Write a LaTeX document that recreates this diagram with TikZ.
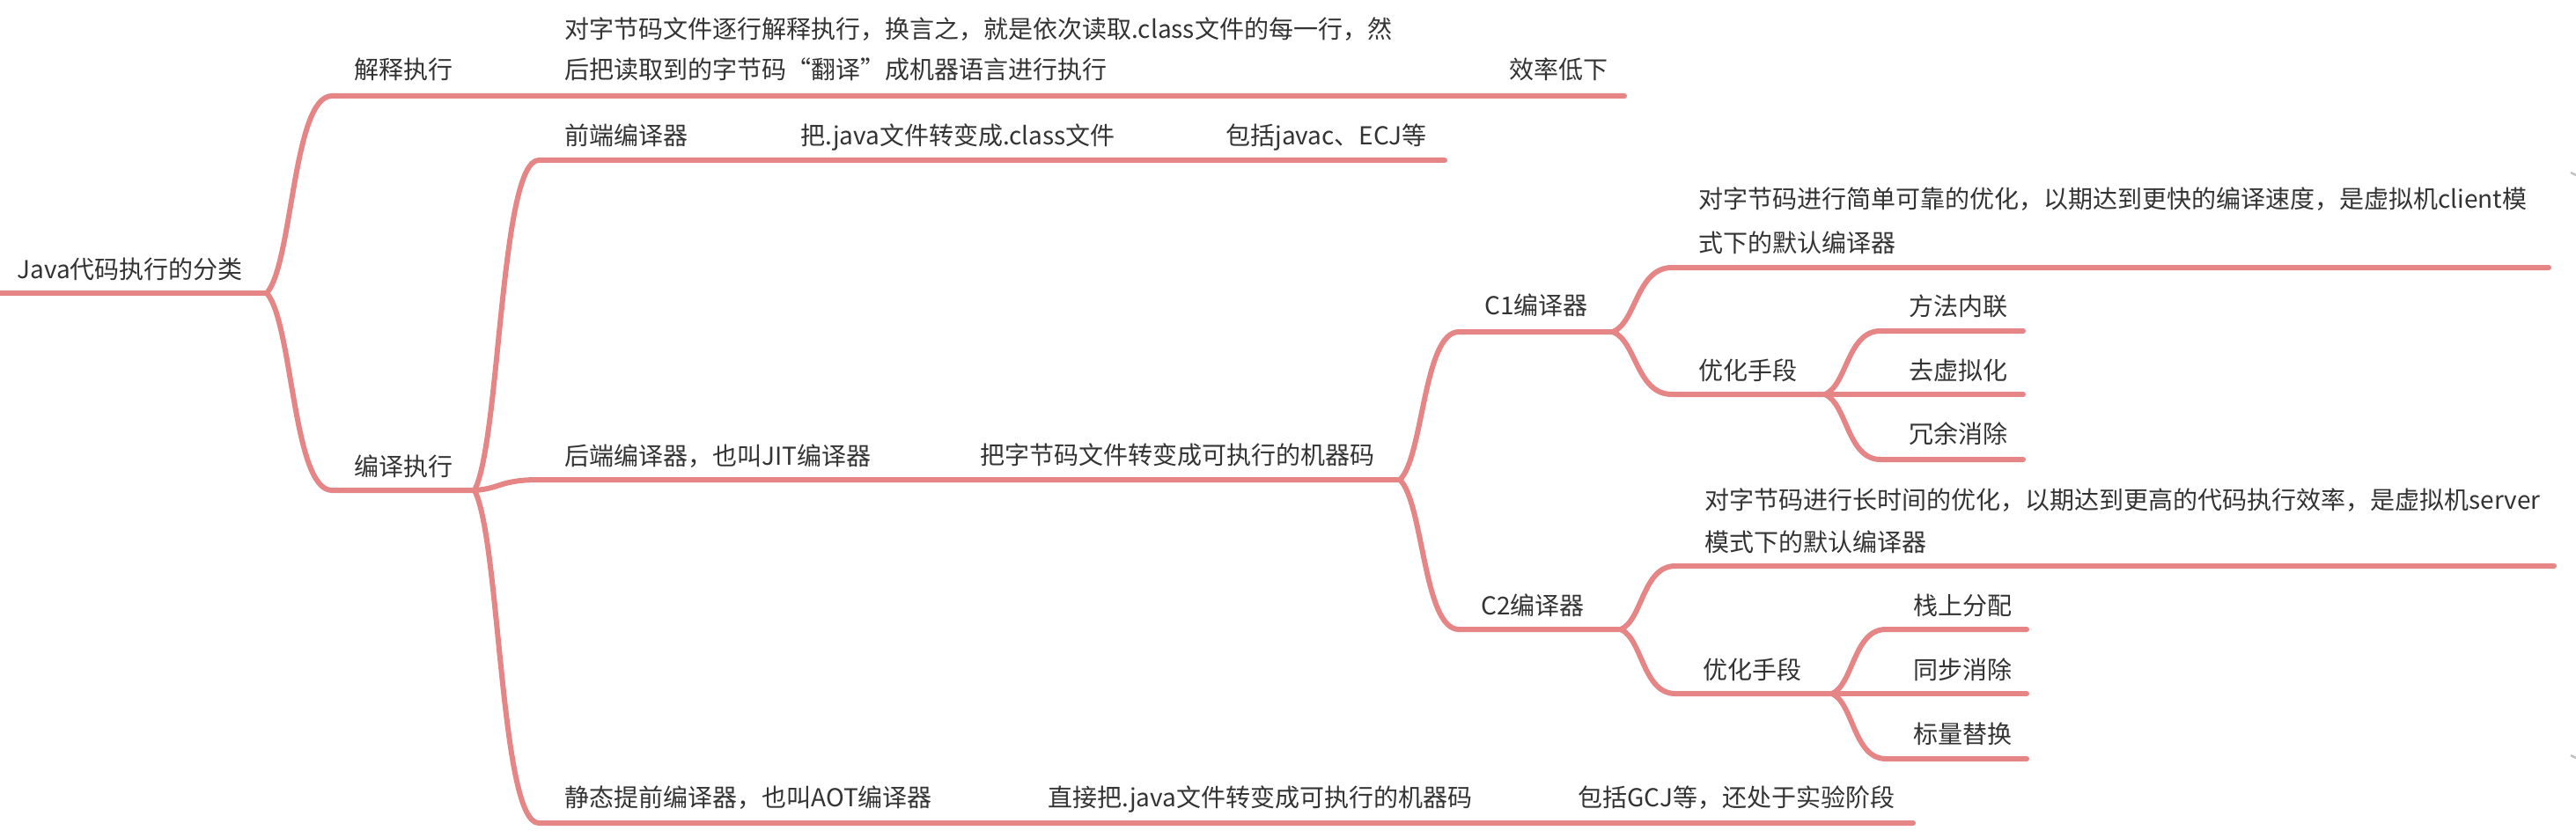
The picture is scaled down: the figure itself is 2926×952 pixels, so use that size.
\documentclass[tikz,border=0pt]{standalone}
\usepackage{fontspec}
\setmainfont{Noto Sans CJK SC}
\usetikzlibrary{calc}
\definecolor{linec}{HTML}{E68585}
\definecolor{txtc}{HTML}{333333}
\begin{document}
\begin{tikzpicture}[x=0.5pt,y=-0.5pt,
  lbl/.style={anchor=base west, inner sep=0pt, text=txtc, font=\fontsize{14pt}{17pt}\selectfont},
  edge/.style={draw=linec, line width=3pt, line cap=round, line join=round},
  branch/.style={to path={let \p1=(\tikztostart), \p2=(\tikztotarget) in
     .. controls ({\x1+0.4*(\x2-\x1)},{\y1+0.15*(\y2-\y1)}) and ({\x1+0.4*(\x2-\x1)},\y2) .. (\tikztotarget)}}]
\useasboundingbox (0,0) rectangle (2926,952);

% coordinates
\coordinate (rootS) at (0,333);   \coordinate (j0) at (303,333);
\coordinate (jsS) at (377,109);   \coordinate (jsE) at (1845,109);
\coordinate (byS) at (377,557);   \coordinate (j1) at (539,557);
\coordinate (qdS) at (612,182);   \coordinate (qdE) at (1641,182);
\coordinate (hdS) at (612,545);   \coordinate (j2) at (1590,545);
\coordinate (jtS) at (612,935);   \coordinate (jtE) at (2173,935);
\coordinate (c1S) at (1657,377);  \coordinate (j3) at (1832,377);
\coordinate (c1dS) at (1899,304); \coordinate (c1dE) at (2895,304);
\coordinate (c1oS) at (1899,448); \coordinate (j4) at (2073,448);
\coordinate (m1S) at (2136,376);  \coordinate (m1E) at (2298,376);
\coordinate (m2E) at (2298,448);
\coordinate (m3S) at (2136,522);  \coordinate (m3E) at (2298,522);
\coordinate (c2S) at (1657,715);  \coordinate (j5) at (1841,715);
\coordinate (c2dS) at (1903,643); \coordinate (c2dE) at (2901,643);
\coordinate (c2oS) at (1903,788); \coordinate (j6) at (2081,788);
\coordinate (n1S) at (2142,715);  \coordinate (n1E) at (2302,715);
\coordinate (n2E) at (2302,788);
\coordinate (n3S) at (2142,862);  \coordinate (n3E) at (2302,862);

% connectors
\draw[edge] (rootS) -- (j0);
\draw[edge] (j0) to[branch] (jsS) -- (jsE);
\draw[edge] (j0) to[branch] (byS) -- (j1);
\draw[edge] (j1) to[branch] (qdS) -- (qdE);
\draw[edge] (j1) to[branch] (hdS) -- (j2);
\draw[edge] (j1) to[branch] (jtS) -- (jtE);
\draw[edge] (j2) to[branch] (c1S) -- (j3);
\draw[edge] (j2) to[branch] (c2S) -- (j5);
\draw[edge] (j3) to[branch] (c1dS) -- (c1dE);
\draw[edge] (j3) to[branch] (c1oS) -- (j4);
\draw[edge] (j4) to[branch] (m1S) -- (m1E);
\draw[edge] (j4) -- (m2E);
\draw[edge] (j4) to[branch] (m3S) -- (m3E);
\draw[edge] (j5) to[branch] (c2dS) -- (c2dE);
\draw[edge] (j5) to[branch] (c2oS) -- (j6);
\draw[edge] (j6) to[branch] (n1S) -- (n1E);
\draw[edge] (j6) -- (n2E);
\draw[edge] (j6) to[branch] (n3S) -- (n3E);

% labels
\node[lbl] (root) at (19,316) {Java代码执行的分类};
\node[lbl] (js) at (402,90) {解释执行};
\node[lbl] (jsd1) at (641,44) {对字节码文件逐行解释执行，换言之，就是依次读取.class文件的每一行，然};
\node[lbl] (jsd2) at (641,90) {后把读取到的字节码“翻译”成机器语言进行执行};
\node[lbl] (xl) at (1714,90) {效率低下};
\node[lbl] (by) at (402,540) {编译执行};
\node[lbl] (qd) at (641,165) {前端编译器};
\node[lbl] (qd2) at (909,165) {把.java文件转变成.class文件};
\node[lbl] (qd3) at (1392,165) {包括javac、ECJ等};
\node[lbl] (hd) at (641,528) {后端编译器，也叫JIT编译器};
\node[lbl] (hd2) at (1113,527) {把字节码文件转变成可执行的机器码};
\node[lbl] (c1) at (1686,357) {C1编译器};
\node[lbl] (c1d1) at (1929,236) {对字节码进行简单可靠的优化，以期达到更快的编译速度，是虚拟机client模};
\node[lbl] (c1d2) at (1929,286) {式下的默认编译器};
\node[lbl] (c1o) at (1929,431) {优化手段};
\node[lbl] (m1) at (2168,358) {方法内联};
\node[lbl] (m2) at (2168,431) {去虚拟化};
\node[lbl] (m3) at (2168,503) {冗余消除};
\node[lbl] (c2) at (1682,698) {C2编译器};
\node[lbl] (c2d1) at (1936,578) {对字节码进行长时间的优化，以期达到更高的代码执行效率，是虚拟机server};
\node[lbl] (c2d2) at (1936,626) {模式下的默认编译器};
\node[lbl] (c2o) at (1934,771) {优化手段};
\node[lbl] (n1) at (2173,698) {栈上分配};
\node[lbl] (n2) at (2173,771) {同步消除};
\node[lbl] (n3) at (2173,844) {标量替换};
\node[lbl] (jt) at (641,916) {静态提前编译器，也叫AOT编译器};
\node[lbl] (jt2) at (1190,916) {直接把.java文件转变成可执行的机器码};
\node[lbl] (jt3) at (1792,916) {包括GCJ等，还处于实验阶段};

% faint edge marks
\coordinate (g1a) at (2920,196); \coordinate (g1b) at (2926,199);
\coordinate (g2a) at (2920,858); \coordinate (g2b) at (2926,861);
\draw[gray!50, line width=1.2pt] (g1a) -- (g1b);
\draw[gray!50, line width=1.2pt] (g2a) -- (g2b);
\end{tikzpicture}
\end{document}
